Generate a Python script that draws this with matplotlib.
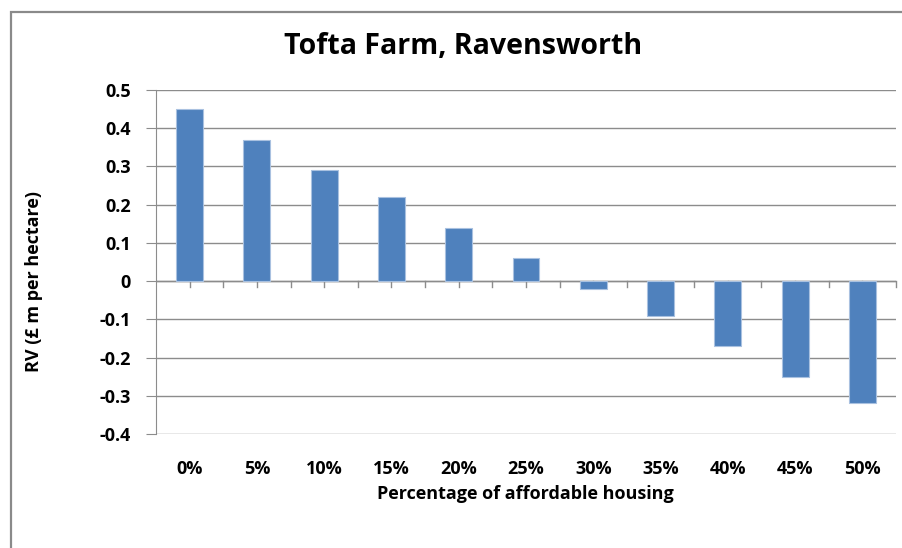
import matplotlib.pyplot as plt
from matplotlib.patches import Rectangle

plt.rcParams['font.family'] = ['Open Sans', 'DejaVu Sans']

# affordable housing share and residual value
categories = ['0%', '5%', '10%', '15%', '20%', '25%', '30%', '35%', '40%', '45%', '50%']
rv = [0.45, 0.37, 0.29, 0.22, 0.14, 0.06, -0.02, -0.09, -0.17, -0.25, -0.32]
yticks = [-0.4, -0.3, -0.2, -0.1, 0, 0.1, 0.2, 0.3, 0.4, 0.5]
ytick_labels = ['-0.4', '-0.3', '-0.2', '-0.1', '0', '0.1', '0.2', '0.3', '0.4', '0.5']

fig = plt.figure(figsize=(9.03, 5.48), dpi=100)
ax = fig.add_axes([0.1728, 0.208, 0.8194, 0.6278])

# outer chart frame
fig.patches.append(Rectangle((11 / 903, -0.05), 1.0, 1 - 12 / 548 + 0.05,
                             transform=fig.transFigure, fill=False,
                             edgecolor='#8a8a8a', linewidth=1.6))

x = list(range(len(categories)))
ax.bar(x, rv, width=0.4, color='#4f81bd', edgecolor='#a9c1e0', linewidth=0.8, zorder=3)

ax.set_xlim(-0.5, len(categories) - 0.5)
ax.set_ylim(-0.4, 0.5)
ax.set_yticks(yticks)
ax.set_yticklabels(ytick_labels, fontsize=13, fontweight='bold')
ax.grid(axis='y', color='#8c8c8c', linewidth=1.0, zorder=0)

# category axis sits on zero, labels below the plot
ax.axhline(0, color='#8c8c8c', linewidth=1.0, zorder=2)
for i in range(len(categories)):
    for t in (i, i + 0.5):
        if t <= len(categories) - 0.5:
            ax.plot([t, t], [0, -0.016], color='#8c8c8c', linewidth=1.0, zorder=2, clip_on=False)
ax.set_xticks(x)
ax.set_xticklabels(categories, fontsize=13, fontweight='bold')
ax.tick_params(axis='x', length=0, pad=19)
ax.tick_params(axis='y', length=7, color='#8c8c8c', pad=11)

for side in ('top', 'right', 'bottom'):
    ax.spines[side].set_visible(False)
ax.spines['left'].set_color('#8c8c8c')

fig.text(463 / 903, 1 - 47 / 548, 'Tofta Farm, Ravensworth', fontsize=20.5,
         fontweight='bold', ha='center', va='center')
fig.text(525 / 903, 1 - 494 / 548, 'Percentage of affordable housing', fontsize=13,
         fontweight='bold', ha='center', va='center')
fig.text(34 / 903, 1 - 281 / 548, 'RV (£ m per hectare)', fontsize=13,
         fontweight='bold', ha='center', va='center', rotation=90)

fig.savefig('out.png', dpi=100)
